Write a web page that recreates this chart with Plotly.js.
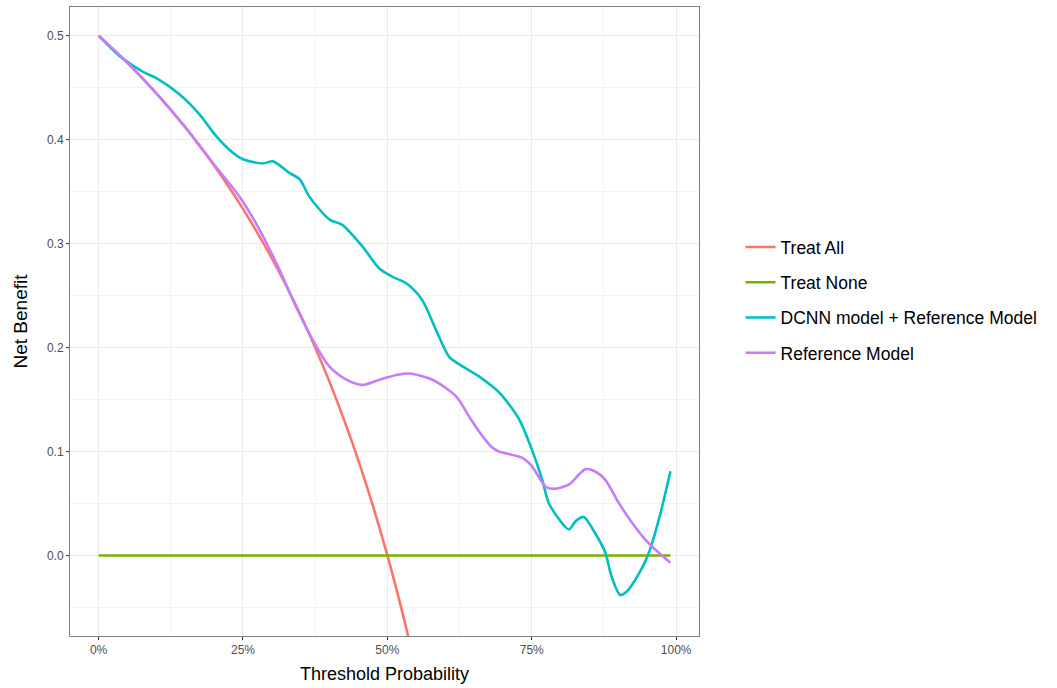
<!DOCTYPE html>
<html>
<head>
<meta charset="utf-8">
<script src="https://cdn.plot.ly/plotly-3.0.1.min.js"></script>
<style>html,body{margin:0;padding:0;background:#fff;}#chart{width:1057px;height:688px;}</style>
</head>
<body>
<div id="chart"></div>
<script>
// Threshold probabilities and net benefit values
const treatAllX = [0, 0.025, 0.05, 0.075, 0.1, 0.125, 0.15, 0.175, 0.2, 0.225, 0.25, 0.275, 0.3, 0.325, 0.35, 0.375, 0.4, 0.425, 0.45, 0.475, 0.5, 0.525, 0.55];
const treatAllY = [0.5, 0.4872, 0.4737, 0.4595, 0.4444, 0.4286, 0.4118, 0.3939, 0.375, 0.3548, 0.3333, 0.3103, 0.2857, 0.2593, 0.2308, 0.2, 0.1667, 0.1304, 0.0909, 0.0476, 0.0, -0.0526, -0.1111];

const treatNoneX = [0, 0.99];
const treatNoneY = [0, 0];

const dcnnX = [0, 0.037, 0.077, 0.1, 0.141, 0.175, 0.204, 0.233, 0.25, 0.284, 0.302, 0.33, 0.348, 0.365, 0.4, 0.422, 0.457, 0.486, 0.509, 0.532, 0.56, 0.584, 0.607, 0.624, 0.659, 0.693, 0.728, 0.75, 0.768, 0.779, 0.797, 0.814, 0.826, 0.84, 0.859, 0.877, 0.888, 0.903, 0.914, 0.94, 0.953, 0.973, 0.99];
const dcnnY = [0.5, 0.48, 0.465, 0.459, 0.443, 0.424, 0.403, 0.387, 0.381, 0.377, 0.379, 0.368, 0.362, 0.345, 0.323, 0.318, 0.297, 0.276, 0.268, 0.262, 0.246, 0.217, 0.191, 0.184, 0.172, 0.157, 0.131, 0.102, 0.073, 0.051, 0.035, 0.025, 0.033, 0.037, 0.022, 0.003, -0.020, -0.038, -0.035, -0.013, 0.003, 0.041, 0.081];

const refX = [0, 0.05, 0.1, 0.15, 0.2, 0.244, 0.279, 0.313, 0.342, 0.377, 0.399, 0.429, 0.457, 0.486, 0.52, 0.538, 0.578, 0.619, 0.641, 0.659, 0.681, 0.693, 0.733, 0.75, 0.774, 0.788, 0.814, 0.832, 0.843, 0.859, 0.877, 0.9, 0.923, 0.947, 0.969, 0.99];
const refY = [0.5, 0.4737, 0.4444, 0.412, 0.376, 0.345, 0.313, 0.275, 0.239, 0.201, 0.182, 0.169, 0.164, 0.169, 0.174, 0.175, 0.169, 0.153, 0.134, 0.119, 0.104, 0.1, 0.094, 0.086, 0.066, 0.064, 0.068, 0.078, 0.083, 0.081, 0.073, 0.051, 0.032, 0.015, 0.003, -0.007];

const seriesNames = ["Treat All", "Treat None", "DCNN model + Reference Model", "Reference Model"];
const seriesColors = ["#F8766D", "#7CAE00", "#00BFC4", "#C77CFF"];

const xTickVals = [0, 0.25, 0.5, 0.75, 1];
const xMinorVals = [0.125, 0.375, 0.625, 0.875];
const yTickVals = [0, 0.1, 0.2, 0.3, 0.4, 0.5];
const yMinorVals = [-0.05, 0.05, 0.15, 0.25, 0.35, 0.45];

const xs = [treatAllX, treatNoneX, dcnnX, refX];
const ys = [treatAllY, treatNoneY, dcnnY, refY];

const traces = seriesNames.map((n, i) => ({
  type: 'scatter', mode: 'lines', name: n,
  x: xs[i], y: ys[i],
  line: {color: seriesColors[i], width: 2.6, shape: i === 1 ? 'linear' : 'spline', smoothing: 0.8},
  legendgroup: 'g' + i,
  hoverinfo: 'skip'
}));

const gridCol = '#ebebeb';
const layout = {
  width: 1057, height: 688,
  paper_bgcolor: '#ffffff', plot_bgcolor: '#ffffff',
  margin: {l: 70, r: 358, t: 7, b: 52},
  font: {family: 'Liberation Sans, Arial, sans-serif', color: '#000'},
  showlegend: true,
  legend: {
    x: 1.066, xanchor: 'left', y: 0.534, yanchor: 'middle',
    font: {size: 17.5, color: '#000'},
    tracegroupgap: 9.5,
    borderwidth: 0,
    bgcolor: 'rgba(0,0,0,0)'
  },
  xaxis: {
    range: [-0.0495, 1.0395],
    tickvals: xTickVals, tickformat: '.0%',
    tickfont: {size: 12, color: '#4d4d4d'},
    ticks: 'outside', ticklen: 3, tickcolor: '#333',
    showgrid: true, gridcolor: gridCol, gridwidth: 1,
    minor: {tickvals: xMinorVals, showgrid: true, gridcolor: '#f3f3f3', gridwidth: 1, ticks: ''},
    zeroline: false,
    showline: true, linecolor: '#808080', linewidth: 1, mirror: true,
    title: {text: 'Threshold Probability', font: {size: 18, color: '#000'}, standoff: 10}
  },
  yaxis: {
    range: [-0.0775, 0.5275],
    tickvals: yTickVals, tickformat: '.1f',
    tickfont: {size: 12, color: '#4d4d4d'},
    ticks: 'outside', ticklen: 3, tickcolor: '#333',
    showgrid: true, gridcolor: gridCol, gridwidth: 1,
    minor: {tickvals: yMinorVals, showgrid: true, gridcolor: '#f3f3f3', gridwidth: 1, ticks: ''},
    zeroline: false,
    showline: true, linecolor: '#808080', linewidth: 1, mirror: true,
    title: {text: 'Net Benefit', font: {size: 19, color: '#000'}, standoff: 14}
  }
};

Plotly.newPlot('chart', traces, layout, {displayModeBar: false, staticPlot: true});
</script>
</body>
</html>
